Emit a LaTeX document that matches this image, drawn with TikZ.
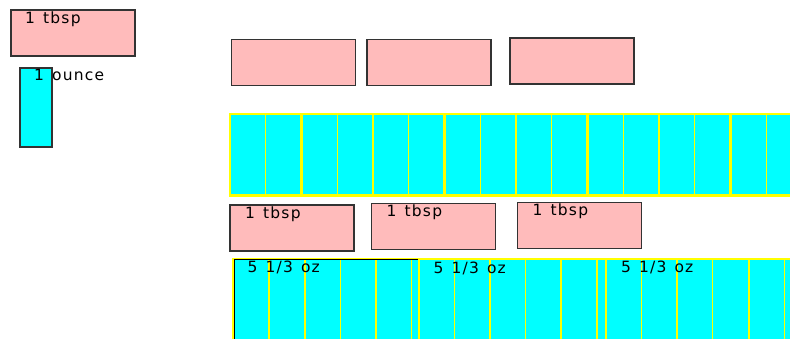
\documentclass[tikz,border=0pt]{standalone}
\usepackage{fontspec}
\newfontfamily\lab[LetterSpace=8,WordSpace=1.3]{DejaVu Sans}
\definecolor{pinkf}{RGB}{255,187,187}
\definecolor{cyanf}{RGB}{0,255,255}
\definecolor{yel}{RGB}{255,255,0}
\begin{document}
\begin{tikzpicture}[x=1pt,y=-1pt,
  pinkbox/.style={draw=black!80,line width=1.5pt,fill=pinkf,minimum width=124pt,minimum height=46pt,anchor=north west,inner sep=0pt,outer sep=0pt},
  ozbox/.style={draw=black!80,line width=1.5pt,fill=cyanf,minimum width=32pt,minimum height=79pt,anchor=north west,inner sep=0pt,outer sep=0pt},
  lbl/.style={anchor=base west,inner sep=0pt,font=\lab\fontsize{15.5}{17}\selectfont},
  cellpair/.style={draw=yel,fill=cyanf,line width=2.2pt},
  cellline/.style={draw=yel,line width=1.3pt}]
\useasboundingbox (0,0) rectangle (790,339);
\clip (0,0) rectangle (790,339);
% top-left legend
\node[pinkbox] (tb) at (11,10) {};
\node[lbl] (tbl) at ([xshift=14pt,yshift=-14pt]tb.north west) {1 tbsp};
\node[ozbox] (oz) at (20,68) {};
\node[lbl] (ozl) at ([xshift=14pt,yshift=-13pt]oz.north west) {1 ounce};
% top row of pink boxes
\node[pinkbox] (p1) at (231.5,39.3) {};
\node[pinkbox] (p2) at (367,39.3) {};
\node[pinkbox] (p3) at (510,38) {};
% cyan row 1
\foreach \i in {0,...,7}{
  \pgfmathsetmacro{\xa}{230+\i*71.5}
  \draw[cellpair] (\xa,114) rectangle ++(71.5,81.5);
  \draw[cellline] (\xa+35.75,114) -- ++(0,81.5);
}
% second row of pink boxes with labels
\node[pinkbox] (q1) at (230,205) {};
\node[lbl] (q1l) at ([xshift=15pt,yshift=-13.5pt]q1.north west) {1 tbsp};
\node[pinkbox] (q2) at (371.5,203.3) {};
\node[lbl] (q2l) at ([xshift=15pt,yshift=-13.5pt]q2.north west) {1 tbsp};
\node[pinkbox] (q3) at (517.5,202.3) {};
\node[lbl] (q3l) at ([xshift=15pt,yshift=-13.5pt]q3.north west) {1 tbsp};
% cyan row 2: three groups
\foreach \g in {233.3, 418.5, 605.7}{
  \foreach \i in {0,2,4}{
    \pgfmathsetmacro{\xa}{\g+\i*35.7}
    \draw[draw=yel,fill=cyanf,line width=2pt] (\xa,259.5) rectangle ++(71.4,90);
    \draw[cellline] (\xa+35.7,259.5) -- ++(0,90);
  }
}
\draw[black,line width=1.3pt] (234.3,345) -- (234.3,260.2);
\draw[black,line width=1.3pt] (234.3,259.8) -- (418,259.8);
\node[lbl] (g1) at (247.5,272.7) {5 1/3 oz};
\node[lbl] (g2) at (433.5,273) {5 1/3 oz};
\node[lbl] (g3) at (621,272.7) {5 1/3 oz};
\end{tikzpicture}
\end{document}
